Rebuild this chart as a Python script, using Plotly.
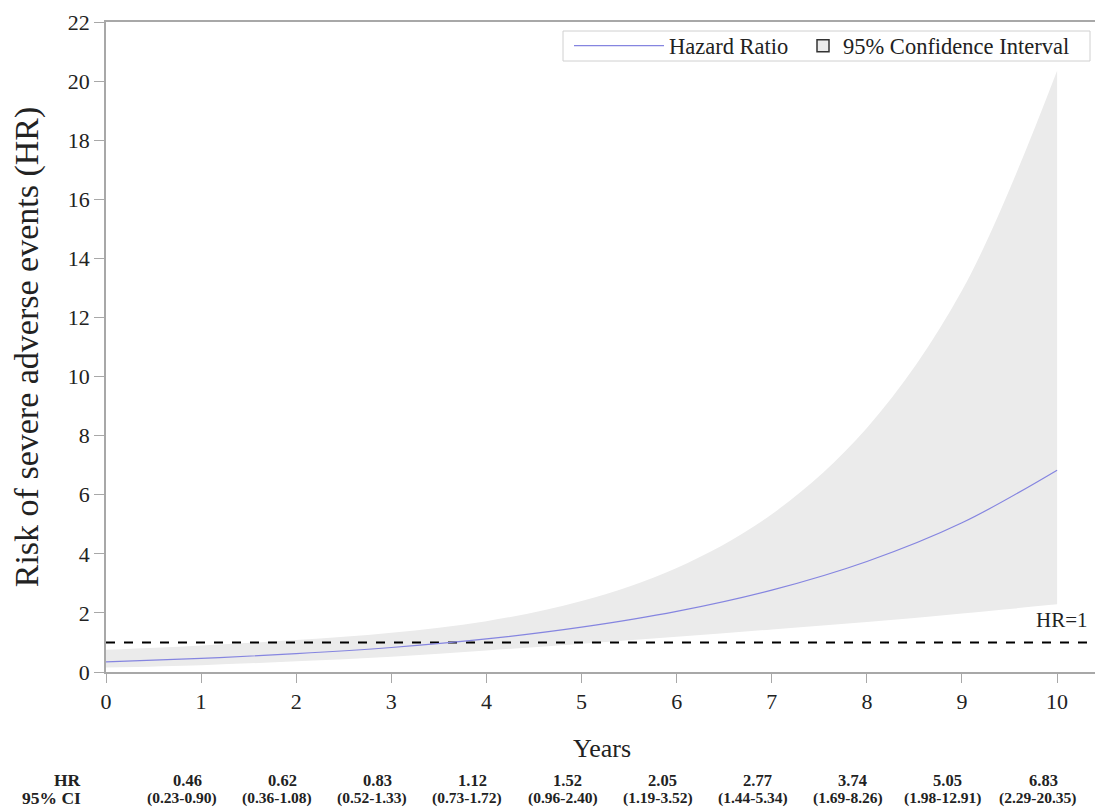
import plotly.graph_objects as go

# ---- data ----
years = [0, 1, 2, 3, 4, 5, 6, 7, 8, 9, 10]
hr = [0.34, 0.46, 0.62, 0.83, 1.12, 1.52, 2.05, 2.77, 3.74, 5.05, 6.83]
ci_low = [0.15, 0.23, 0.36, 0.52, 0.73, 0.96, 1.19, 1.44, 1.69, 1.98, 2.29]
ci_high = [0.75, 0.90, 1.08, 1.33, 1.72, 2.40, 3.52, 5.34, 8.26, 12.91, 20.35]

table_years = [1, 2, 3, 4, 5, 6, 7, 8, 9, 10]
table_hr = ["0.46", "0.62", "0.83", "1.12", "1.52", "2.05", "2.77", "3.74", "5.05", "6.83"]
table_ci = ["(0.23-0.90)", "(0.36-1.08)", "(0.52-1.33)", "(0.73-1.72)", "(0.96-2.40)",
            "(1.19-3.52)", "(1.44-5.34)", "(1.69-8.26)", "(1.98-12.91)", "(2.29-20.35)"]
ref_line = 1

x_ticks = list(range(0, 11))
y_ticks = list(range(0, 23, 2))
x_max = 10.43

SERIF = "Liberation Serif"
LINE_COLOR = "#8585e0"
BAND_COLOR = "#ebebeb"
AXIS_COLOR = "#a8a8a8"
TEXT_COLOR = "#222222"

# screen geometry: plot area x 106..1098, y 22..672 (page has 8px body margin)
def py(pix):
    return (672 - pix) / 650.0

def px(pix):
    return (pix - 106) / 992.0

fig = go.Figure()

# confidence band
fig.add_trace(go.Scatter(x=years, y=ci_low, mode="lines", line=dict(width=0, shape="spline"),
                         showlegend=False, hoverinfo="skip"))
fig.add_trace(go.Scatter(x=years, y=ci_high, mode="lines", line=dict(width=0, shape="spline"),
                         fill="tonexty", fillcolor=BAND_COLOR, showlegend=False, hoverinfo="skip"))

# reference line HR=1
fig.add_trace(go.Scatter(x=[0, x_max], y=[ref_line, ref_line], mode="lines",
                         line=dict(color="black", width=2, dash="dash"),
                         showlegend=False, hoverinfo="skip"))

# hazard ratio curve
fig.add_trace(go.Scatter(x=years, y=hr, mode="lines", name="Hazard Ratio", legend="legend",
                         line=dict(color=LINE_COLOR, width=1.2, shape="spline")))

# legend entry for CI
fig.add_trace(go.Scatter(x=[None], y=[None], mode="markers", name="95% Confidence Interval",
                         legend="legend2",
                         marker=dict(symbol="square", size=12, color=BAND_COLOR,
                                     line=dict(color="#333333", width=1.5))))

# legend frame
fig.add_shape(type="rect", xref="paper", yref="paper", x0=px(563), x1=px(1090), y0=py(61), y1=py(31),
              line=dict(color="#d0d0d0", width=1), fillcolor="white", layer="above")

# HR=1 label
fig.add_annotation(x=1, xref="paper", y=ref_line, yref="y", text="HR=1", showarrow=False,
                   xanchor="right", yanchor="bottom", xshift=-8, yshift=8,
                   font=dict(family=SERIF, size=21, color=TEXT_COLOR))

# table under the chart
fig.add_annotation(x=px(83), xref="paper", y=py(780), yref="paper", text="<b>HR</b>",
                   showarrow=False, xanchor="right", yanchor="middle",
                   font=dict(family=SERIF, size=17.5, color=TEXT_COLOR))
fig.add_annotation(x=px(83), xref="paper", y=py(798), yref="paper", text="<b>95% CI</b>",
                   showarrow=False, xanchor="right", yanchor="middle",
                   font=dict(family=SERIF, size=17.5, color=TEXT_COLOR))
for yr, h, c in zip(table_years, table_hr, table_ci):
    fig.add_annotation(x=yr, xref="x", y=py(780), yref="paper", text="<b>%s</b>" % h,
                       showarrow=False, xanchor="center", yanchor="middle", xshift=-14,
                       font=dict(family=SERIF, size=16.5, color=TEXT_COLOR))
    fig.add_annotation(x=yr, xref="x", y=py(798), yref="paper", text="<b>%s</b>" % c,
                       showarrow=False, xanchor="center", yanchor="middle", xshift=-19,
                       font=dict(family=SERIF, size=15.5, color=TEXT_COLOR))

legend_common = dict(orientation="h", yanchor="middle", y=py(46), xanchor="left",
                     bgcolor="rgba(0,0,0,0)", borderwidth=0,
                     font=dict(family=SERIF, size=22.5, color=TEXT_COLOR))

fig.update_layout(
    width=1095, height=804,
    margin=dict(l=98, r=5, t=14, b=140),
    paper_bgcolor="white", plot_bgcolor="white",
    font=dict(family=SERIF, color=TEXT_COLOR),
    legend=dict(x=px(569), itemwidth=90, **legend_common),
    legend2=dict(x=px(803), itemwidth=30, **legend_common),
    xaxis=dict(range=[0, x_max], tickvals=x_ticks, ticks="outside", ticklen=9, tickcolor=AXIS_COLOR,
               showline=True, linecolor=AXIS_COLOR, linewidth=1.5, mirror=True, showgrid=False,
               zeroline=False, automargin=False,
               tickfont=dict(family=SERIF, size=22, color=TEXT_COLOR),
               title=dict(text="Years", font=dict(family=SERIF, size=26, color=TEXT_COLOR), standoff=26)),
    yaxis=dict(range=[0, 22], tickvals=y_ticks, ticks="outside", ticklen=10, tickcolor=AXIS_COLOR,
               showline=True, linecolor=AXIS_COLOR, linewidth=1.5, mirror=True, showgrid=False,
               zeroline=False, automargin=False,
               tickfont=dict(family=SERIF, size=22, color=TEXT_COLOR),
               title=dict(text="Risk of severe adverse events (HR)",
                          font=dict(family=SERIF, size=34, color=TEXT_COLOR), standoff=26)),
)

fig.write_html("out.html")
